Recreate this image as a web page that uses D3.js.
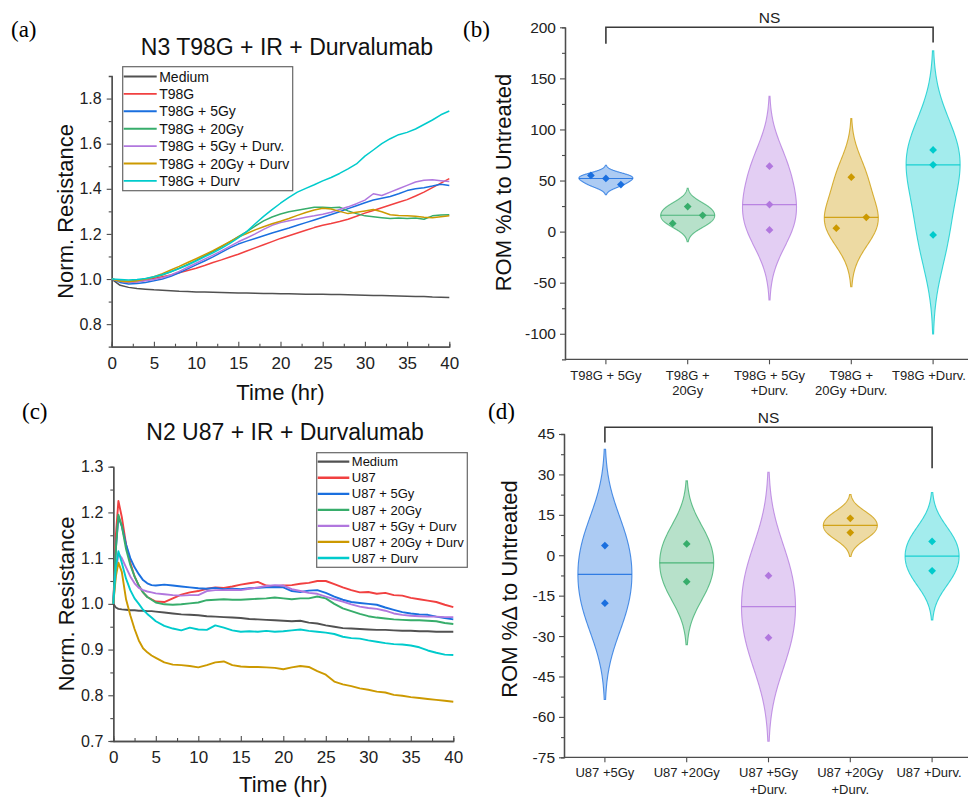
<!DOCTYPE html>
<html>
<head>
<meta charset="utf-8">
<script src="https://cdn.jsdelivr.net/npm/d3@7"></script>
<style>
  body { margin: 0; background: #fff; }
  svg { font-family: "Liberation Sans", Arial, sans-serif; }
</style>
</head>
<body>
<svg id="fig" width="968" height="798"></svg>
<script>
// Origin "bright" palette: medium, untreated, 5Gy, 20Gy, 5Gy+Durv, 20Gy+Durv, Durv
const palette = ["#515151", "#F14040", "#1A6FDF", "#37AD6B", "#B177DE", "#CC9900", "#00CBCC"];

// ---- (a) T98G impedance traces, read every hour ----
const hoursA = [0,1,2,3,4,5,6,7,8,9,10,11,12,13,14,15,16,17,18,19,20,21,22,23,24,25,26,27,28,29,30,31,32,33,34,35,36,37,38,39,40];
const namesA = ["Medium", "T98G", "T98G + 5Gy", "T98G + 20Gy", "T98G + 5Gy + Durv.", "T98G + 20Gy + Durv", "T98G + Durv"];
const mediumA = [1.000,0.972,0.963,0.958,0.955,0.952,0.950,0.948,0.946,0.945,0.943,0.942,0.941,0.940,0.939,0.938,0.938,0.937,0.936,0.936,0.935,0.935,0.934,0.933,0.933,0.932,0.931,0.931,0.930,0.929,0.928,0.927,0.927,0.926,0.925,0.924,0.923,0.922,0.920,0.919,0.918];
const t98gA = [1.000,0.990,0.985,0.988,0.994,1.002,1.010,1.018,1.028,1.038,1.048,1.060,1.073,1.085,1.098,1.110,1.124,1.138,1.152,1.166,1.180,1.192,1.204,1.216,1.228,1.238,1.246,1.255,1.265,1.278,1.292,1.304,1.316,1.328,1.340,1.352,1.368,1.385,1.405,1.425,1.445];
const t98g5A = [1.000,0.985,0.978,0.980,0.985,0.992,1.000,1.012,1.028,1.045,1.063,1.080,1.098,1.118,1.138,1.155,1.168,1.180,1.192,1.204,1.215,1.226,1.238,1.250,1.262,1.274,1.286,1.298,1.312,1.325,1.338,1.350,1.358,1.366,1.378,1.392,1.400,1.405,1.412,1.420,1.415];
const t98g20A = [1.000,0.992,0.990,0.994,1.000,1.008,1.018,1.032,1.048,1.065,1.083,1.102,1.122,1.143,1.165,1.188,1.210,1.235,1.258,1.275,1.288,1.298,1.305,1.312,1.318,1.318,1.316,1.318,1.302,1.290,1.280,1.276,1.272,1.268,1.270,1.268,1.270,1.265,1.280,1.284,1.285];
const t98g5DA = [1.000,0.990,0.985,0.988,0.992,0.998,1.006,1.018,1.034,1.052,1.070,1.088,1.106,1.125,1.145,1.165,1.182,1.200,1.220,1.238,1.250,1.258,1.266,1.274,1.280,1.287,1.296,1.308,1.320,1.334,1.350,1.378,1.370,1.385,1.400,1.415,1.430,1.438,1.440,1.436,1.432];
const t98g20DA = [1.000,0.990,0.988,0.992,1.000,1.010,1.024,1.040,1.056,1.073,1.090,1.108,1.126,1.146,1.166,1.186,1.202,1.218,1.232,1.245,1.256,1.268,1.282,1.295,1.306,1.314,1.310,1.300,1.290,1.296,1.302,1.308,1.298,1.285,1.282,1.280,1.278,1.274,1.272,1.276,1.280];
const t98gDA = [1.000,0.998,0.996,0.998,1.002,1.010,1.020,1.032,1.046,1.062,1.080,1.098,1.116,1.136,1.158,1.182,1.210,1.245,1.278,1.308,1.336,1.362,1.385,1.402,1.418,1.435,1.450,1.468,1.488,1.510,1.545,1.572,1.600,1.622,1.640,1.650,1.665,1.685,1.705,1.728,1.745];

// ---- (c) U87 impedance traces ----
const hoursC = [0,0.3,0.6,1,1.5,2,2.5,3,3.5,4,4.5,5,6,7,8,9,10,11,12,13,14,15,16,17,18,19,20,21,22,23,24,25,26,27,28,29,30,31,32,33,34,35,36,37,38,39,40];
const namesC = ["Medium", "U87", "U87 + 5Gy", "U87 + 20Gy", "U87 + 5Gy + Durv", "U87 + 20Gy + Durv", "U87 + Durv"];
const mediumC = [1.000,0.992,0.989,0.988,0.987,0.986,0.986,0.985,0.985,0.984,0.984,0.983,0.981,0.979,0.977,0.976,0.975,0.973,0.972,0.971,0.970,0.969,0.967,0.966,0.965,0.964,0.963,0.962,0.963,0.959,0.957,0.953,0.950,0.947,0.946,0.945,0.944,0.943,0.943,0.942,0.941,0.941,0.940,0.940,0.939,0.939,0.939];
const u87C = [1.000,1.150,1.225,1.190,1.130,1.090,1.060,1.040,1.025,1.015,1.010,1.005,1.004,1.012,1.020,1.025,1.028,1.033,1.036,1.035,1.038,1.042,1.045,1.048,1.040,1.038,1.040,1.041,1.044,1.046,1.050,1.050,1.043,1.036,1.030,1.025,1.026,1.022,1.024,1.019,1.018,1.013,1.010,1.007,1.004,0.998,0.993];
const u875C = [1.000,1.120,1.190,1.170,1.130,1.100,1.080,1.065,1.052,1.045,1.041,1.040,1.042,1.040,1.038,1.036,1.034,1.033,1.035,1.032,1.033,1.032,1.034,1.035,1.036,1.037,1.036,1.028,1.026,1.029,1.030,1.024,1.016,1.009,1.004,1.002,1.000,0.998,0.992,0.987,0.982,0.979,0.977,0.976,0.972,0.969,0.966];
const u8720C = [1.000,1.120,1.195,1.170,1.120,1.085,1.060,1.040,1.025,1.015,1.009,1.003,0.999,0.998,0.999,1.001,1.003,1.008,1.009,1.010,1.009,1.009,1.010,1.011,1.012,1.014,1.012,1.010,1.012,1.012,1.016,1.012,1.000,0.990,0.984,0.978,0.973,0.970,0.968,0.966,0.965,0.964,0.964,0.963,0.962,0.958,0.956];
const u875DC = [1.000,1.070,1.110,1.100,1.080,1.060,1.045,1.035,1.030,1.027,1.025,1.023,1.021,1.019,1.018,1.019,1.019,1.028,1.030,1.030,1.031,1.030,1.033,1.036,1.039,1.041,1.040,1.032,1.028,1.024,1.022,1.016,1.010,1.005,0.999,0.994,0.991,0.989,0.985,0.979,0.976,0.974,0.973,0.972,0.972,0.971,0.971];
const u8720DC = [1.000,1.060,1.090,1.070,1.010,0.975,0.945,0.920,0.903,0.894,0.887,0.882,0.872,0.867,0.866,0.864,0.861,0.866,0.872,0.874,0.866,0.863,0.862,0.862,0.861,0.860,0.857,0.861,0.864,0.862,0.853,0.845,0.830,0.824,0.820,0.815,0.812,0.808,0.806,0.801,0.799,0.796,0.794,0.792,0.790,0.788,0.786];
const u87DC = [1.000,1.080,1.115,1.090,1.055,1.030,1.012,1.000,0.987,0.978,0.970,0.962,0.952,0.946,0.942,0.948,0.944,0.943,0.953,0.948,0.942,0.939,0.940,0.939,0.941,0.939,0.940,0.942,0.944,0.941,0.939,0.937,0.934,0.928,0.925,0.924,0.920,0.917,0.914,0.912,0.911,0.909,0.905,0.898,0.893,0.889,0.888];

// ---- (b) ROM % change, T98G ----
const catsB = [["T98G + 5Gy"], ["T98G +", "20Gy"], ["T98G + 5Gy", "+Durv."], ["T98G +", "20Gy +Durv."], ["T98G +Durv."]];
const romB = [[52, 46, 55], [24.5, 16, 8], [64, 26.5, 1.6], [53.3, 14, 3.3], [80, 65.4, -3.3]];
const slotsB = [[0, 1, -1], [0, 1, -1], [0, 0, 0], [0, 1, -1], [0, 0, 0]];
const bracketB = {from: 0, to: 4, top: 200, leftEnd: 184, rightEnd: 185};

// ---- (d) ROM % change, U87 ----
const catsD = [["U87 +5Gy"], ["U87 +20Gy"], ["U87 +5Gy", "+Durv."], ["U87 +20Gy", "+Durv."], ["U87 +Durv."]];
const romD = [[3.6, -17.8], [4.2, -9.8], [-7.6, -30.6], [13.7, 8.4], [5.1, -5.8]];
const slotsD = [[0, 0], [0, 0], [0, 0], [0, 0], [0, 0]];
const bracketD = {from: 0, to: 4, top: 47.5, leftEnd: 41.8, rightEnd: 32.3};

const fig = d3.select("#fig");
const axisColor = "#4d4d4d";

function styleAxis(sel) {
    sel.selectAll(".domain").attr("stroke", axisColor).attr("stroke-width", 1.3);
    sel.selectAll(".tick line").attr("stroke", axisColor).attr("stroke-width", 1.1);
    sel.selectAll("text").attr("fill", "#222").attr("font-family", "Liberation Sans, Arial, sans-serif");
}

function panelLetter(txt, x, y) {
    fig.append("text").attr("x", x).attr("y", y)
        .attr("font-family", "Liberation Serif, serif").attr("font-size", 23)
        .text(txt);
}

function yLabel(txt, x, y) {
    fig.append("text")
        .attr("transform", `translate(${x},${y}) rotate(-90)`)
        .attr("text-anchor", "middle").attr("font-size", 22).attr("fill", "#111")
        .text(txt);
}

/*
 * Time course panel: lines + legend
 */
function linePanel(cfg) {
    let g = fig.append("g");
    let x = d3.scaleLinear().domain([0, 40]).range(cfg.xRange);
    let y = d3.scaleLinear().domain(cfg.yDomain).range(cfg.yRange);

    // minor ticks
    g.append("g").attr("transform", `translate(0,${cfg.yRange[0]})`)
        .call(d3.axisBottom(x).tickValues(d3.range(2.5, 40, 5)).tickSize(-3).tickFormat(""))
        .call(styleAxis);
    g.append("g").attr("transform", `translate(${cfg.xRange[0]},0)`)
        .call(d3.axisLeft(y).tickValues(cfg.yMinor).tickSize(3).tickFormat(""))
        .call(styleAxis);

    let xAxis = g.append("g").attr("transform", `translate(0,${cfg.yRange[0]})`)
        .call(d3.axisBottom(x).tickValues(d3.range(0, 41, 5)).tickSize(-5).tickSizeOuter(0).tickPadding(10))
        .call(styleAxis);
    xAxis.selectAll("text").attr("font-size", 17);

    let yAxis = g.append("g").attr("transform", `translate(${cfg.xRange[0]},0)`)
        .call(d3.axisLeft(y).tickValues(cfg.yTicks).tickSize(5).tickSizeOuter(0).tickPadding(5).tickFormat(d3.format(".1f")))
        .call(styleAxis);
    yAxis.selectAll("text").attr("font-size", 16);

    let line = d3.line().x((d, i) => x(cfg.hours[i])).y(d => y(d));
    cfg.series.forEach((s, i) => {
        g.append("path").datum(s)
            .attr("d", line)
            .attr("fill", "none")
            .attr("stroke", palette[i])
            .attr("stroke-width", cfg.lineWidth)
            .attr("stroke-linejoin", "round");
    });

    // legend
    let lg = cfg.legend;
    g.append("rect").attr("x", lg.x).attr("y", lg.y).attr("width", lg.w).attr("height", lg.h)
        .attr("fill", "#fff").attr("stroke", "#666").attr("stroke-width", 1.2);
    cfg.names.forEach((n, i) => {
        let cy = lg.y0 + i * lg.step;
        g.append("line").attr("x1", lg.x + 1).attr("x2", lg.x + lg.lineLen)
            .attr("y1", cy).attr("y2", cy)
            .attr("stroke", palette[i]).attr("stroke-width", cfg.lineWidth + 0.4);
        g.append("text").attr("x", lg.x + lg.lineLen + 2.5).attr("y", cy + lg.fs * 0.36)
            .attr("font-size", lg.fs).attr("fill", "#111").text(n);
    });

    fig.append("text").attr("x", cfg.title.x).attr("y", cfg.title.y)
        .attr("text-anchor", "middle").attr("font-size", 23).attr("fill", "#111")
        .text(cfg.title.text);
    fig.append("text").attr("x", (cfg.xRange[0] + cfg.xRange[1]) / 2).attr("y", cfg.xLabelY)
        .attr("text-anchor", "middle").attr("font-size", 22).attr("fill", "#111")
        .text("Time (hr)");
    yLabel("Norm. Resistance", cfg.xRange[0] - 39, (cfg.yRange[0] + cfg.yRange[1]) / 2);
}

/*
 * Violin panel: KDE violins, medians, points, NS bracket
 */
function violinPanel(cfg) {
    let g = fig.append("g");
    let x = d3.scaleBand().domain(d3.range(cfg.cats.length)).range(cfg.xRange);
    let y = d3.scaleLinear().domain(cfg.yDomain).range(cfg.yRange);
    let halfW = 27;

    g.append("g").attr("transform", `translate(${cfg.axisX},0)`)
        .call(d3.axisLeft(y).tickValues(cfg.yMinor).tickSize(3).tickFormat(""))
        .call(styleAxis);
    let yAxis = g.append("g").attr("transform", `translate(${cfg.axisX},0)`)
        .call(d3.axisLeft(y).tickValues(cfg.yTicks).tickSize(5).tickSizeOuter(0).tickPadding(4).tickFormat(d => String(d)))
        .call(styleAxis);
    yAxis.selectAll("text").attr("font-size", 15.5);

    let xAxis = g.append("g").attr("transform", `translate(0,${cfg.yRange[0]})`)
        .call(d3.axisBottom(x).tickSize(5).tickSizeOuter(0).tickFormat(""))
        .call(styleAxis);
    xAxis.select(".domain").attr("d", `M${cfg.axisX},0H${cfg.xRange[1]}`);

    cfg.cats.forEach((lines, i) => {
        let t = g.append("text").attr("text-anchor", "middle").attr("font-size", 13).attr("fill", "#222");
        lines.forEach((l, k) => {
            t.append("tspan").attr("x", Math.min(x(i) + x.bandwidth() / 2, cfg.labelMaxX))
                .attr("y", cfg.labelY + k * cfg.labelGap).text(l);
        });
    });

    cfg.values.forEach((vals, i) => {
        let cx = x(i) + x.bandwidth() / 2;
        let col = palette[i + 2];
        let bw = 1.06 * d3.deviation(vals) * Math.pow(vals.length, -0.2);
        let lo = d3.min(vals) - 2.56 * bw, hi = d3.max(vals) + 2.56 * bw;
        let kde = v => d3.mean(vals, p => Math.exp(-0.5 * ((v - p) / bw) ** 2));
        let dens = d3.range(0, 161).map(k => {
            let v = lo + (hi - lo) * k / 160;
            return [v, kde(v)];
        });
        let w = d3.scaleLinear().domain([0, d3.max(dens, d => d[1])]).range([0, halfW]);

        let area = d3.area()
            .y(d => y(d[0]))
            .x0(d => cx - w(d[1]))
            .x1(d => cx + w(d[1]));
        g.append("path").datum(dens)
            .attr("d", area)
            .attr("fill", col).attr("fill-opacity", 0.36)
            .attr("stroke", col).attr("stroke-opacity", 0.75).attr("stroke-width", 1.1);

        let med = d3.median(vals);
        let mw = w(kde(med));
        g.append("line").attr("x1", cx - mw).attr("x2", cx + mw)
            .attr("y1", y(med)).attr("y2", y(med))
            .attr("stroke", col).attr("stroke-width", 1.2).attr("stroke-opacity", 0.85);

        vals.forEach((v, k) => {
            g.append("path")
                .attr("d", d3.symbol(d3.symbolSquare, 30)())
                .attr("transform", `translate(${cx + cfg.slots[i][k] * 15},${y(v)}) rotate(45)`)
                .attr("fill", col);
        });
    });

    // significance bracket
    let br = cfg.bracket;
    let bx0 = x(br.from) + x.bandwidth() / 2, bx1 = x(br.to) + x.bandwidth() / 2;
    g.append("path")
        .attr("d", `M${bx0},${y(br.leftEnd)}V${y(br.top)}H${bx1}V${y(br.rightEnd)}`)
        .attr("fill", "none").attr("stroke", "#3a3a3a").attr("stroke-width", 1.6);
    g.append("text").attr("x", (bx0 + bx1) / 2).attr("y", y(br.top) - 4)
        .attr("text-anchor", "middle").attr("font-size", 15.5).attr("fill", "#222").text("NS");

    yLabel("ROM %\u0394 to Untreated", cfg.yLabel.x, cfg.yLabel.y);
}

linePanel({
    hours: hoursA, names: namesA,
    series: [mediumA, t98gA, t98g5A, t98g20A, t98g5DA, t98g20DA, t98gDA],
    xRange: [111.7, 449.3], yRange: [346.7, 76], yDomain: [0.7, 1.9],
    yTicks: [0.8, 1.0, 1.2, 1.4, 1.6, 1.8], yMinor: [0.9, 1.1, 1.3, 1.5, 1.7],
    lineWidth: 1.5,
    legend: {x: 122.7, y: 66.7, w: 170, h: 124, y0: 76.5, step: 17.4, lineLen: 34, fs: 14},
    title: {text: "N3 T98G + IR + Durvalumab", x: 287, y: 55},
    xLabelY: 400
});

linePanel({
    hours: hoursC, names: namesC,
    series: [mediumC, u87C, u875C, u8720C, u875DC, u8720DC, u87DC],
    xRange: [113.3, 453.3], yRange: [741, 466.7], yDomain: [0.7, 1.3],
    yTicks: [0.7, 0.8, 0.9, 1.0, 1.1, 1.2, 1.3], yMinor: [0.75, 0.85, 0.95, 1.05, 1.15, 1.25],
    lineWidth: 1.9,
    legend: {x: 316.7, y: 452.7, w: 150.6, h: 114.6, y0: 461.7, step: 16.05, lineLen: 32.6, fs: 13},
    title: {text: "N2 U87 + IR + Durvalumab", x: 285, y: 440},
    xLabelY: 792
});

violinPanel({
    cats: catsB, values: romB, slots: slotsB, bracket: bracketB,
    axisX: 565, xRange: [565, 974], yRange: [359.3, 27.3], yDomain: [-125, 200],
    yTicks: [-100, -50, 0, 50, 100, 150, 200], yMinor: [-75, -25, 25, 75, 125, 175],
    labelY: 380, labelGap: 15, labelMaxX: 929,
    yLabel: {x: 510.5, y: 182.5}
});

violinPanel({
    cats: catsD, values: romD, slots: slotsD, bracket: bracketD,
    axisX: 564, xRange: [564, 973], yRange: [757.3, 434], yDomain: [-75, 45],
    yTicks: [-75, -60, -45, -30, -15, 0, 15, 30, 45], yMinor: [-67.5, -52.5, -37.5, -22.5, -7.5, 7.5, 22.5, 37.5],
    labelY: 777, labelGap: 16.6, labelMaxX: 929,
    yLabel: {x: 517, y: 589}
});

panelLetter("(a)", 11, 37);
panelLetter("(b)", 463, 37);
panelLetter("(c)", 22, 419);
panelLetter("(d)", 488, 419);
</script>
</body>
</html>
